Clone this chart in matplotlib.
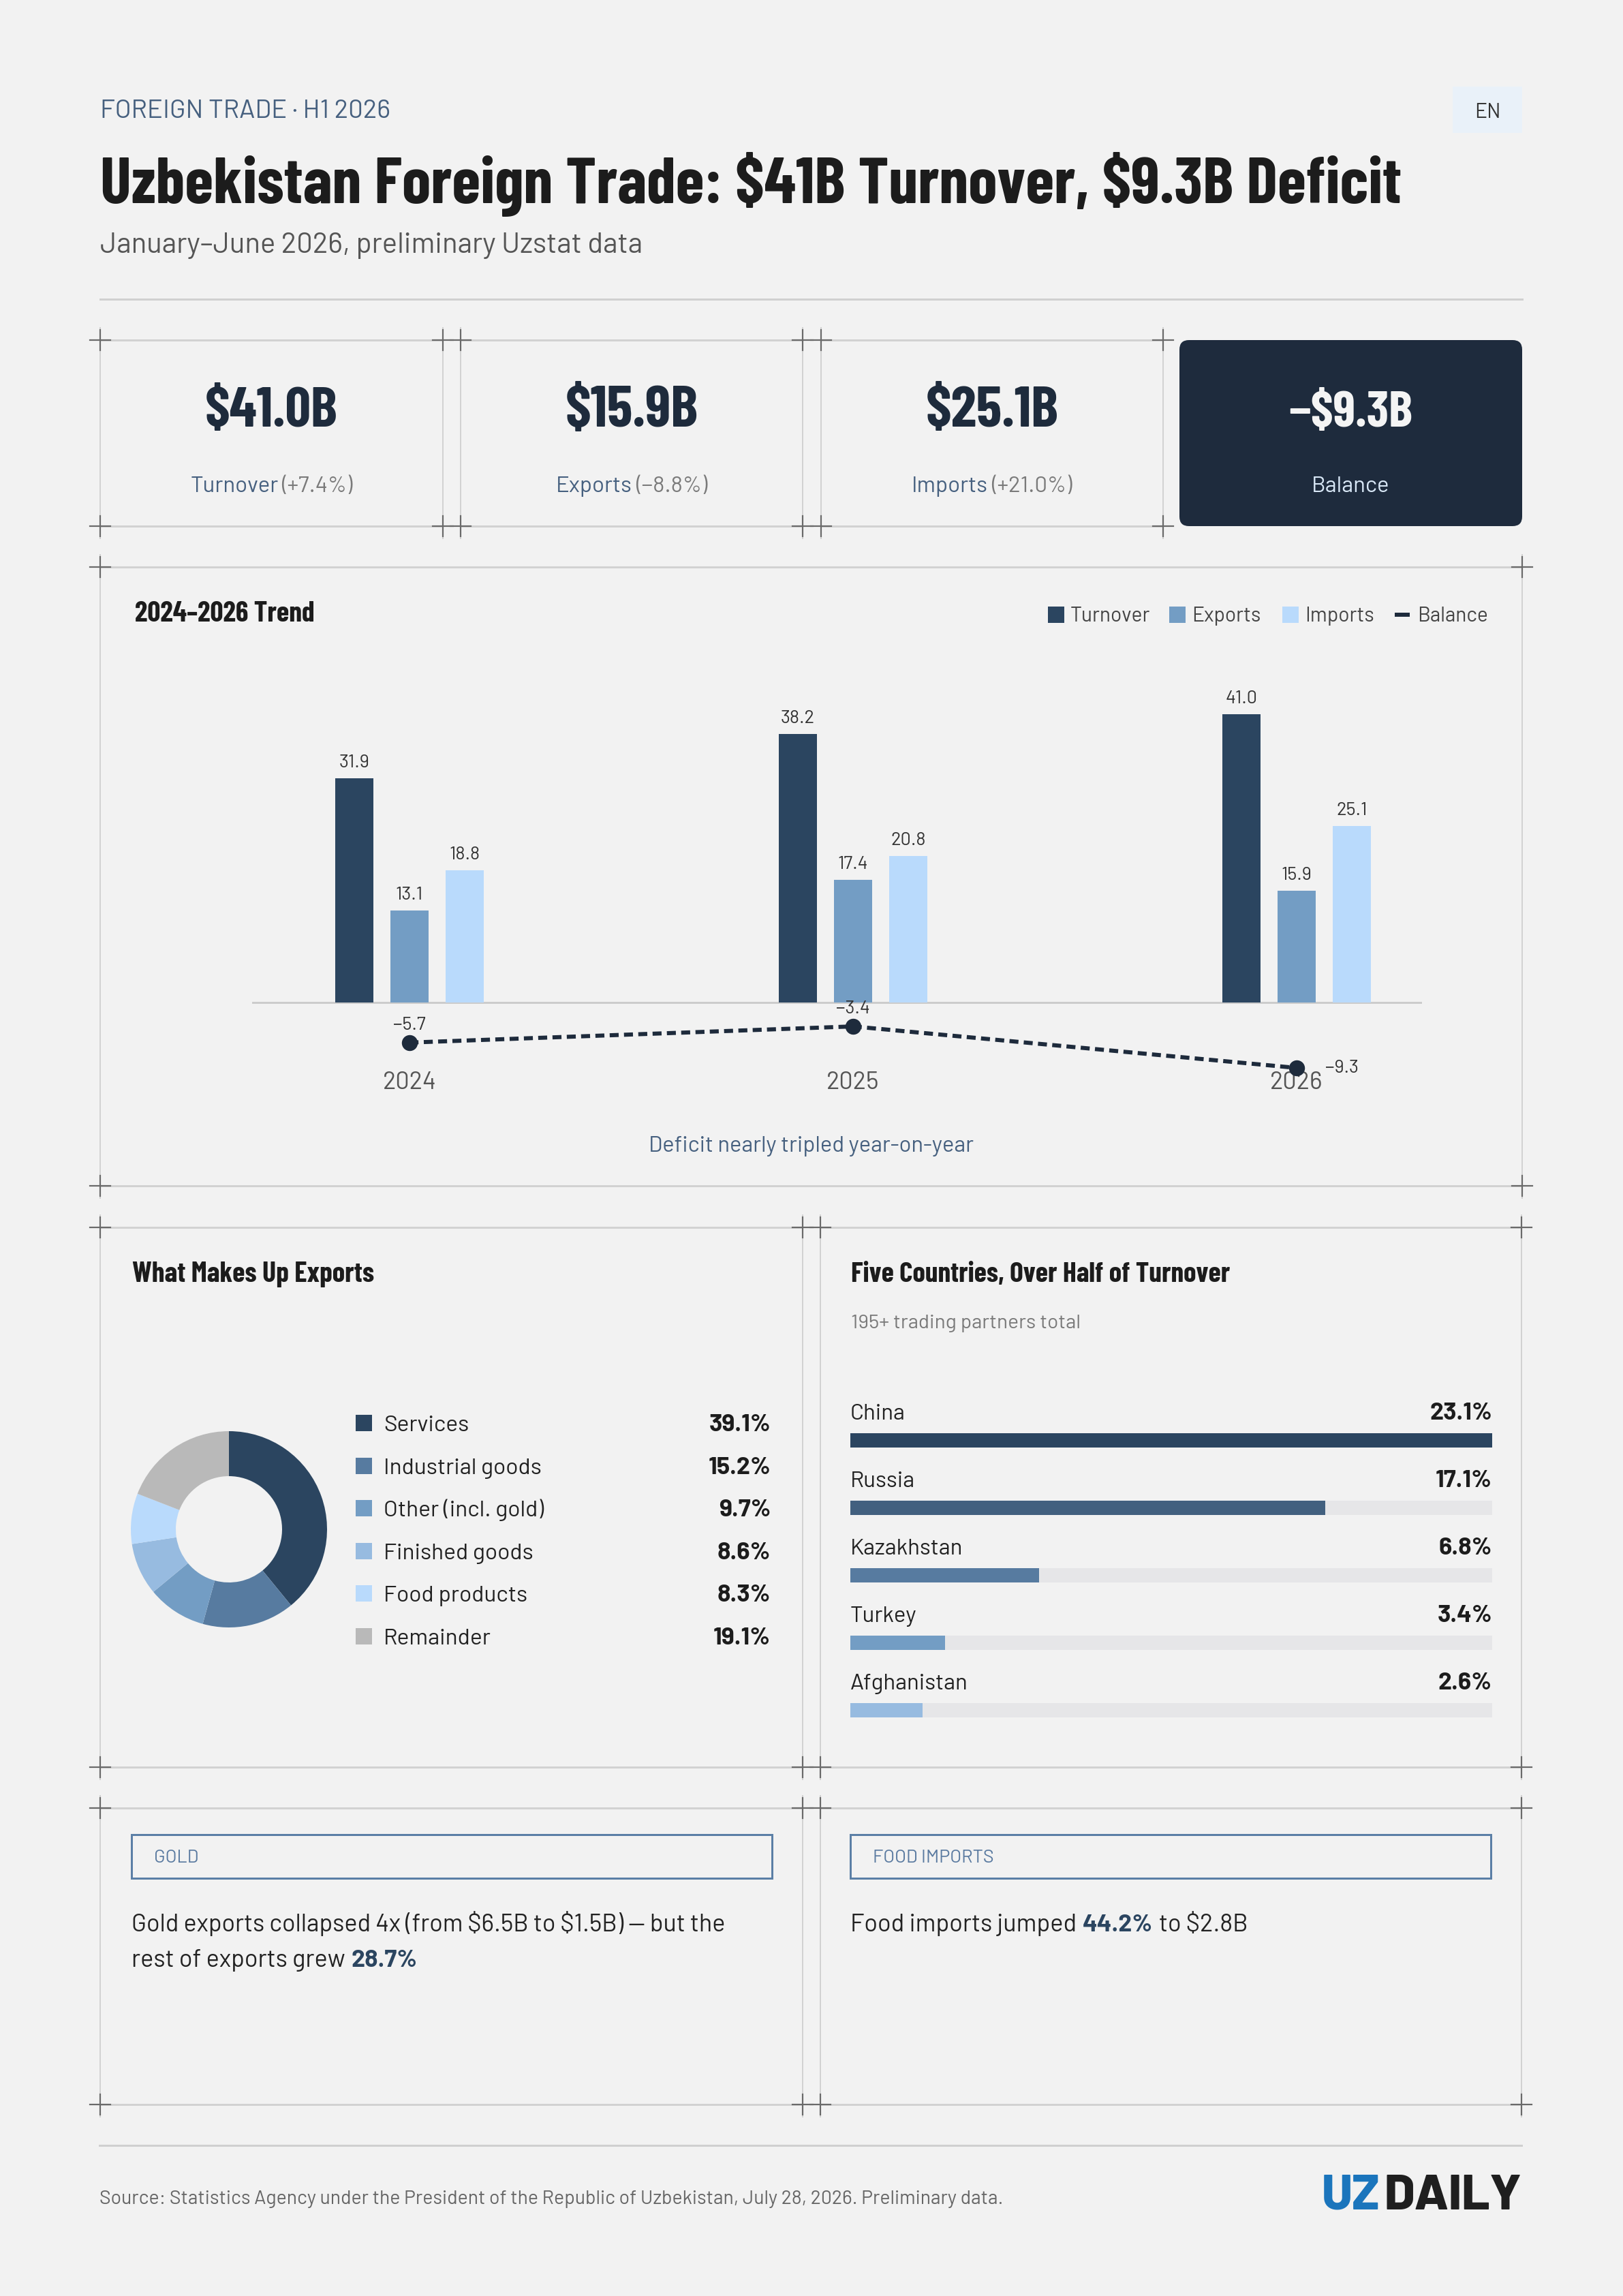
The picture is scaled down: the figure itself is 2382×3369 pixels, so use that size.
import matplotlib
matplotlib.use('Agg')
import matplotlib.pyplot as plt
from matplotlib import font_manager as fm
from matplotlib.patches import Rectangle, FancyBboxPatch
import numpy as np

plt.rcParams['text.parse_math'] = False

# ---------------- data ----------------
kpi_values = ['$41.0B', '$15.9B', '$25.1B', '\u2212$9.3B']
kpi_labels = ['Turnover', 'Exports', 'Imports', 'Balance']
kpi_changes = ['(+7.4%)', '(\u22128.8%)', '(+21.0%)', '']

years = ['2024', '2025', '2026']
turnover = [31.9, 38.2, 41.0]
exports = [13.1, 17.4, 15.9]
imports = [18.8, 20.8, 25.1]
balance = [-5.7, -3.4, -9.3]

export_categories = ['Services', 'Industrial goods', 'Other (incl. gold)',
                     'Finished goods', 'Food products', 'Remainder']
export_shares = [39.1, 15.2, 9.7, 8.6, 8.3, 19.1]

partners = ['China', 'Russia', 'Kazakhstan', 'Turkey', 'Afghanistan']
partner_shares = [23.1, 17.1, 6.8, 3.4, 2.6]

# ---------------- style ----------------
W, H = 2382, 3369
DPI = 100
BG = '#f2f2f2'
DARK = '#1e2b3c'
INK = '#1c1c1c'
SLATE = '#46607f'
GRID = '#d2d2d2'
CROSS = '#6a6a6a'
C_TURN = '#2b4560'
C_EXP = '#739dc4'
C_IMP = '#b9dafc'
donut_colors = ['#2b4560', '#577ba0', '#739dc4', '#97bbe0', '#b9dafc', '#b9b9b9']
partner_colors = ['#2b4560', '#42607f', '#577ba0', '#739dc4', '#97bbe0']

names = sorted({f.name for f in fm.fontManager.ttflist})
def pick(cands, default):
    for c in cands:
        if c in names:
            return c
    return default
BODY = pick(['Barlow', 'Roboto', 'Inter', 'Lato', 'Noto Sans', 'DejaVu Sans'], 'DejaVu Sans')
COND = pick(['Barlow Condensed', 'Roboto Condensed', 'Noto Sans Condensed',
             'Open Sans Condensed', 'Liberation Sans Narrow', 'DejaVu Sans Condensed'], BODY)

def pt(px):
    return px * 72.0 / DPI

fig = plt.figure(figsize=(W / DPI, H / DPI), dpi=DPI, facecolor=BG)
ov = fig.add_axes([0, 0, 1, 1], zorder=0)
ov.set_xlim(0, W)
ov.set_ylim(H, 0)
ov.axis('off')
renderer = fig.canvas.get_renderer()

def width_of(t):
    return t.get_window_extent(renderer).width

def put(x, y, s, em, family=None, weight='normal', color=INK, ha='left',
        va='baseline', fitw=None, maxgrow=1.2, ax=None, **kw):
    a = ax if ax is not None else ov
    t = a.text(x, y, s, fontsize=pt(em), family=family or BODY, weight=weight,
               color=color, ha=ha, va=va, **kw)
    if fitw:
        w = width_of(t)
        if w > 0:
            t.set_fontsize(t.get_fontsize() * min(fitw / w, maxgrow))
    return t

def runs(x, y, parts, ha='left', gap=None):
    """parts: list of (text, em, family, weight, color)"""
    ts = []
    for s, em, fam, wt, col in parts:
        ts.append(ov.text(0, y, s, fontsize=pt(em), family=fam, weight=wt,
                          color=col, ha='left', va='baseline'))
    ws = [width_of(t) for t in ts]
    g = gap if gap is not None else parts[0][1] * 0.26
    total = sum(ws) + g * (len(ws) - 1)
    cx = x - total / 2 if ha == 'center' else x
    for t, w in zip(ts, ws):
        t.set_x(cx)
        cx += w + g
    return ts

def frame(x0, y0, x1, y1, ext=18, arm=15):
    ov.plot([x0, x1], [y0, y0], color=GRID, lw=pt(3), solid_capstyle='butt')
    ov.plot([x0, x1], [y1, y1], color=GRID, lw=pt(3), solid_capstyle='butt')
    ov.plot([x0, x0], [y0 - ext, y1 + ext], color=GRID, lw=pt(2))
    ov.plot([x1, x1], [y0 - ext, y1 + ext], color=GRID, lw=pt(2))
    for cx in (x0, x1):
        for cy in (y0, y1):
            ov.plot([cx - arm, cx + arm], [cy, cy], color=CROSS, lw=pt(2.2))
            ov.plot([cx, cx], [cy - arm, cy + arm], color=CROSS, lw=pt(2.2))

# ---------------- header ----------------
put(147, 173, 'FOREIGN TRADE \u00b7 H1 2026', 30, color=SLATE, fitw=427, maxgrow=1.3)
ov.add_patch(Rectangle((2132, 127), 102, 68, facecolor='#e9f1f9', edgecolor='none'))
put(2183, 173, 'EN', 30, color='#333333', ha='center')
put(147, 298, 'Uzbekistan Foreign Trade: $41B Turnover, $9.3B Deficit', 97,
    family=COND, weight='bold', color=INK, fitw=1909)
put(147, 371, 'January\u2013June 2026, preliminary Uzstat data', 35, color='#555555', fitw=798)
ov.plot([147, 2234], [439, 439], color='#d0d0d0', lw=pt(3))

# ---------------- KPI cards ----------------
card_x = [(147, 650), (676, 1178), (1205, 1707), (1731, 2234)]
cy0, cy1 = 499, 772
for i, (x0, x1) in enumerate(card_x):
    cx = (x0 + x1) / 2
    if i < 3:
        frame(x0, cy0, x1, cy1)
        vcol, lcol = DARK, SLATE
    else:
        ov.add_patch(FancyBboxPatch((x0, cy0), x1 - x0, cy1 - cy0,
                                    boxstyle='round,pad=0,rounding_size=14',
                                    facecolor='#1e2b3d', edgecolor='none'))
        vcol, lcol = '#f4f4f4', '#d9e8f7'
    put(cx, 626, kpi_values[i], 78, family=COND, weight='bold', color=vcol,
        ha='center', fitw=195 if i < 3 else 182)
    if kpi_changes[i]:
        runs(cx, 722, [(kpi_labels[i], 33, BODY, 'normal', lcol),
                       (kpi_changes[i], 33, BODY, 'normal', '#7a7a7a')],
             ha='center', gap=5)
    else:
        put(cx, 722, kpi_labels[i], 33, color=lcol, ha='center')

# ---------------- trend panel ----------------
frame(147, 832, 2234, 1740)
put(198, 912, '2024\u20132026 Trend', 42, family=COND, weight='bold', color=INK, fitw=264)
leg_items = [('Turnover', C_TURN, 'sq', 1538), ('Exports', C_EXP, 'sq', 1716),
             ('Imports', C_IMP, 'sq', 1882), ('Balance', DARK, 'ln', 2047)]
for lab, col, kind, lx in leg_items:
    if kind == 'sq':
        ov.add_patch(Rectangle((lx, 890), 24, 24, facecolor=col, edgecolor='none'))
    else:
        ov.plot([lx, lx + 22], [902, 902], color=col, lw=pt(6), solid_capstyle='butt')
    put(lx + 33, 912, lab, 30, color='#444444')

# bar axes: pixel box 370..2087 x, 1000..1640 y
bx0, bx1, by0, by1 = 370, 2087, 1000, 1640
axb = fig.add_axes([bx0 / W, 1 - by1 / H, (bx1 - bx0) / W, (by1 - by0) / H], zorder=2)
axb.patch.set_alpha(0)
x = np.arange(len(years))
step = 81 / 651.0
bw = 56 / 651.0
series = [(turnover, C_TURN), (exports, C_EXP), (imports, C_IMP)]
for k, (vals, col) in enumerate(series):
    xs = x + (k - 1) * step
    axb.bar(xs, vals, width=bw, color=col, zorder=2)
    for xi, v in zip(xs, vals):
        axb.annotate(f'{v:.1f}', (xi, v), xytext=(0, pt(16)), textcoords='offset points',
                     ha='center', va='baseline', fontsize=pt(27), family=BODY, color='#333333')
axb.axhline(0, color='#cccccc', lw=pt(3), zorder=1)
axb.plot(x, balance, color=DARK, lw=pt(6), ls=(0, (2.2, 1.3)), marker='o',
         ms=pt(22), zorder=4)
placement = ['above', 'above', 'right']
for xi, v, p in zip(x, balance, placement):
    s = f'\u2212{abs(v):.1f}'
    if p == 'above':
        axb.annotate(s, (xi, v), xytext=(0, pt(19)), textcoords='offset points',
                     ha='center', va='baseline', fontsize=pt(27), family=BODY, color='#333333', zorder=5)
    else:
        axb.annotate(s, (xi, v), xytext=(pt(42), 0), textcoords='offset points',
                     ha='left', va='center', fontsize=pt(27), family=BODY, color='#333333', zorder=5)
for xi, yl in zip(x, years):
    axb.annotate(yl, (xi, 0), xytext=(0, -pt(127)), textcoords='offset points',
                 ha='center', va='baseline', fontsize=pt(36), family=BODY, color='#555555', zorder=1)
axb.set_xlim((bx0 - 601) / 651.0, (bx1 - 601) / 651.0)
axb.set_ylim((1471 - by1) / 10.32, (1471 - by0) / 10.32)
axb.axis('off')
put(1190, 1690, 'Deficit nearly tripled year-on-year', 30, color=SLATE, ha='center', fitw=477)

# ---------------- exports donut panel ----------------
frame(147, 1801, 1178, 2593)
put(194, 1881, 'What Makes Up Exports', 45, family=COND, weight='bold', color=INK, fitw=355)
dcx, dcy, R = 336, 2244, 144
axd = fig.add_axes([(dcx - 160) / W, 1 - (dcy + 160) / H, 320 / W, 320 / H], zorder=2)
axd.pie(export_shares, colors=donut_colors, startangle=90, counterclock=False,
        radius=1.0, wedgeprops=dict(width=66 / 144.0, linewidth=0))
axd.set_xlim(-160 / 144.0, 160 / 144.0)
axd.set_ylim(-160 / 144.0, 160 / 144.0)
axd.set_aspect('equal')
axd.axis('off')
for i, (cat, sh, col) in enumerate(zip(export_categories, export_shares, donut_colors)):
    yb = 2100 + 62.6 * i
    ov.add_patch(Rectangle((522, yb - 24), 24, 24, facecolor=col, edgecolor='none'))
    put(563, yb, cat, 33.5, color='#222222')
    put(1131, yb, f'{sh:.1f}%', 36, weight='bold', color=INK, ha='right')

# ---------------- partners panel ----------------
frame(1204, 1801, 2233, 2593)
put(1249, 1881, 'Five Countries, Over Half of Turnover', 45, family=COND, weight='bold',
    color=INK, fitw=556)
put(1249, 1949, '195+ trading partners total', 26, color='#7a7a7a', fitw=337)
px0, px1, py0, py1 = 1248, 2190, 2040, 2540
axp = fig.add_axes([px0 / W, 1 - py1 / H, (px1 - px0) / W, (py1 - py0) / H], zorder=2)
axp.patch.set_alpha(0)
rows = np.arange(len(partners))
mx = max(partner_shares)
axp.barh(rows, [mx] * len(rows), height=21 / 99.0, color='#e6e6e8', zorder=1)
axp.barh(rows, partner_shares, height=21 / 99.0, color=partner_colors, zorder=2)
for r, name, v in zip(rows, partners, partner_shares):
    axp.text(0, r - 30.5 / 99.0, name, ha='left', va='baseline', fontsize=pt(33),
             family=BODY, color='#222222')
    axp.text(mx, r - 30.5 / 99.0, f'{v:.1f}%', ha='right', va='baseline', fontsize=pt(36),
             family=BODY, weight='bold', color=INK)
axp.set_xlim(0, mx)
axp.set_ylim((py1 - 2113.5) / 99.0, (py0 - 2113.5) / 99.0)
axp.axis('off')

# ---------------- callout panels ----------------
frame(147, 2653, 1178, 3088)
frame(1204, 2653, 2233, 3088)
for bx, lab in [(193, 'GOLD'), (1248, 'FOOD IMPORTS')]:
    ov.add_patch(Rectangle((bx, 2692), 940, 64, facecolor='none', edgecolor='#5b7fa6', lw=pt(3)))
    put(bx + 33, 2733, lab, 27, color='#5a7aa0')
put(193, 2834, 'Gold exports collapsed 4x (from $6.5B to $1.5B) \u2014 but the', 36,
    color='#222222', fitw=872)
runs(193, 2886, [('rest of exports grew', 36, BODY, 'normal', '#222222'),
                 ('28.7%', 36, BODY, 'bold', '#2b4560')], gap=9)
runs(1248, 2834, [('Food imports jumped', 36, BODY, 'normal', '#222222'),
                  ('44.2%', 36, BODY, 'bold', '#2b4560'),
                  ('to $2.8B', 36, BODY, 'normal', '#222222')], gap=9)

# ---------------- footer ----------------
ov.plot([146, 2233], [3148, 3148], color='#d0d0d0', lw=pt(3))
put(146, 3234, 'Source: Statistics Agency under the President of the Republic of Uzbekistan, '
    'July 28, 2026. Preliminary data.', 26, color='#666666', fitw=1329)
tz = put(0, 3242, 'UZ', 66, family=BODY, weight='heavy', color='#1b75bc')
td = put(2233, 3242, 'DAILY', 66, family=BODY, weight='heavy', color='#1f1f1f', ha='right')
tot = width_of(td) + width_of(tz) + 6
sc = 294.0 / tot
tz.set_fontsize(tz.get_fontsize() * sc)
td.set_fontsize(td.get_fontsize() * sc)
tz.set_x(2233 - width_of(td) - 6 - width_of(tz))

fig.savefig('out.png', dpi=DPI, facecolor=BG)
